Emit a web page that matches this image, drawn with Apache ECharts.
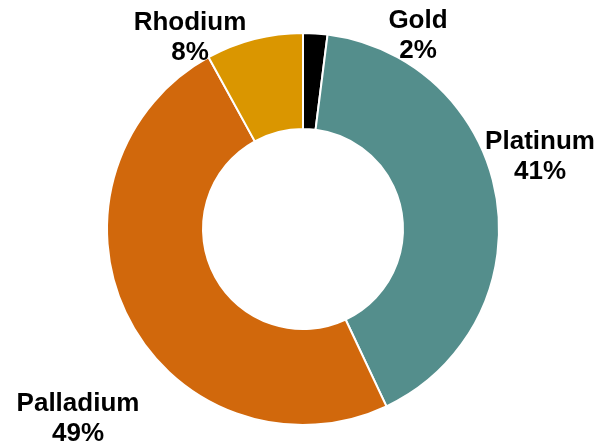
<!DOCTYPE html>
<html>
<head>
<meta charset="utf-8">
<script src="https://cdn.jsdelivr.net/npm/echarts@6/dist/echarts.min.js"></script>
<style>
  html, body { margin: 0; padding: 0; background: #ffffff; }
  #chart { width: 600px; height: 447px; }
</style>
</head>
<body>
<div id="chart"></div>
<script>
// Share of each metal, clockwise from 12 o'clock
const metals = ['Gold', 'Platinum', 'Palladium', 'Rhodium'];
const shares = [2, 41, 49, 8];
const sliceColors = ['#000000', '#548E8C', '#D1680C', '#DA9600'];

// Where each label block sits (centre of the two-line text)
const labelSpots = [
  [418, 36],
  [540, 157],
  [78, 419],
  [190, 38]
];

const chart = echarts.init(document.getElementById('chart'), null, { renderer: 'canvas' });

chart.setOption({
  animation: false,
  backgroundColor: '#ffffff',
  series: [{
    type: 'pie',
    center: [303, 229],
    radius: [100, 196],
    startAngle: 90,
    clockwise: true,
    avoidLabelOverlap: false,
    itemStyle: { borderColor: '#ffffff', borderWidth: 2 },
    label: {
      show: true,
      position: 'outside',
      formatter: '{b}\n{c}%',
      color: '#000000',
      fontFamily: 'Arial, "Liberation Sans", sans-serif',
      fontWeight: 'bold',
      fontSize: 26,
      lineHeight: 30,
      align: 'center'
    },
    labelLine: { show: false },
    labelLayout: function (p) {
      const s = labelSpots[p.dataIndex];
      return { x: s[0], y: s[1], align: 'center', verticalAlign: 'middle' };
    },
    data: metals.map((name, i) => ({
      name: name,
      value: shares[i],
      itemStyle: { color: sliceColors[i] }
    }))
  }]
});
</script>
</body>
</html>
